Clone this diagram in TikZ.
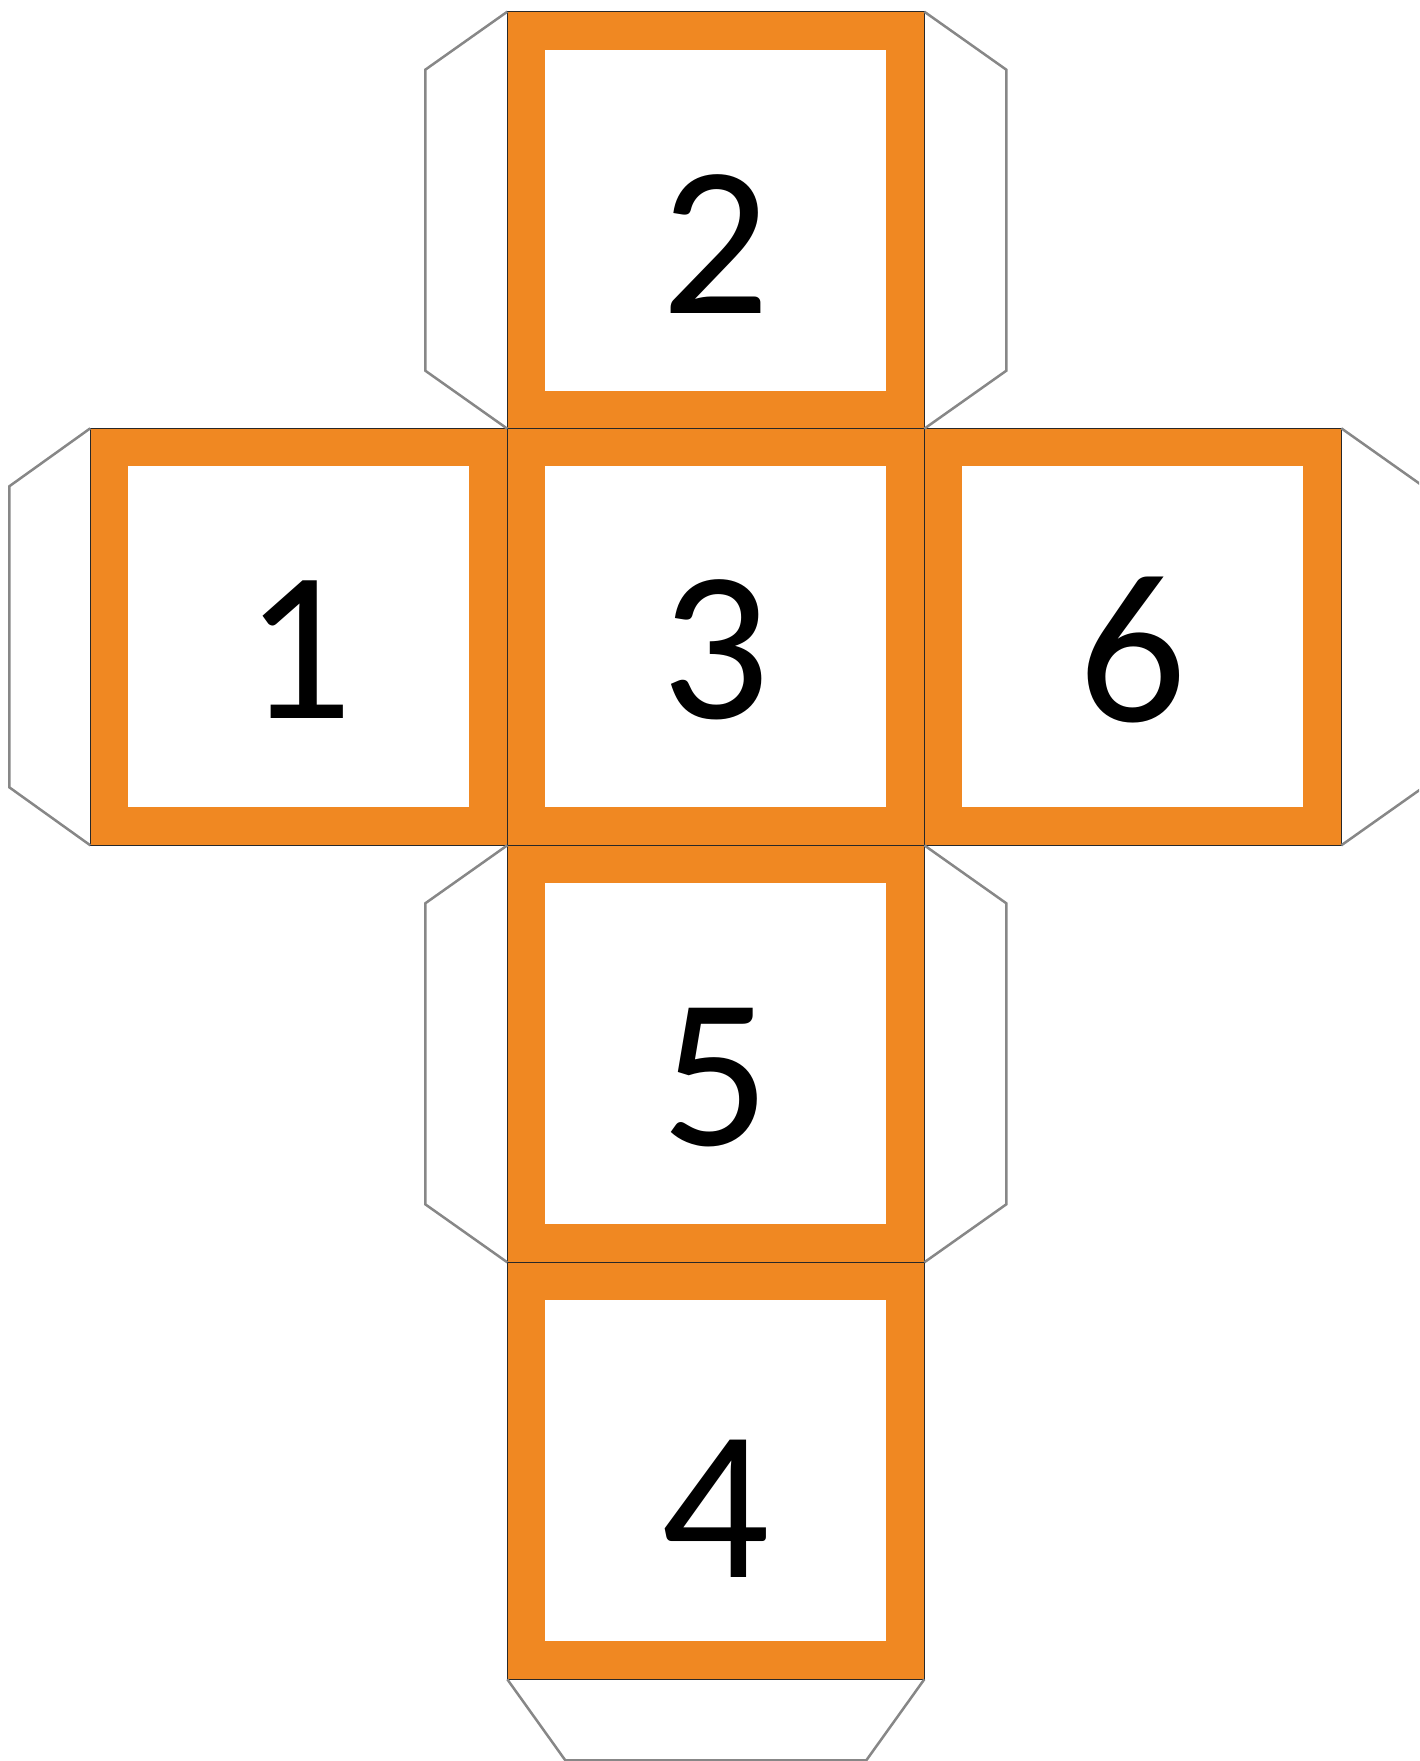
\documentclass[tikz,border=0pt]{standalone}
\usepackage{fontspec}
\setmainfont{Carlito}
\usetikzlibrary{calc}
\definecolor{dieorange}{RGB}{240,136,34}
\definecolor{edgedark}{RGB}{40,40,40}
\definecolor{flapgray}{RGB}{135,135,135}
\tikzset{
  face/.style={rectangle, minimum size=208.5pt, inner sep=0pt, outer sep=0pt,
    fill=dieorange, draw=edgedark, line width=0.75pt,
    path picture={\fill[white] ([shift={(19pt,19pt)}]path picture bounding box.south west)
      rectangle ([shift={(-19pt,-19pt)}]path picture bounding box.north east);}},
  digit/.style={inner sep=0pt, font=\fontsize{107pt}{107pt}\selectfont, text=black},
  flap/.style={draw=flapgray, line width=1.25pt, line join=miter}
}
\begin{document}
\begin{tikzpicture}[x=0.5pt,y=-0.5pt]
\useasboundingbox (0,0) rectangle (1419,1761);
\clip (0,0) rectangle (1419,1761);
% flaps
\coordinate (c2) at (715.8,220.2);
\coordinate (c1) at (298.8,636.8);
\coordinate (c3) at (715.8,636.8);
\coordinate (c6) at (1132.8,636.8);
\coordinate (c5) at (715.8,1053.8);
\coordinate (c4) at (715.8,1470.8);
\node[face] (f2) at (c2) {};
\node[face] (f1) at (c1) {};
\node[face] (f3) at (c3) {};
\node[face] (f6) at (c6) {};
\node[face] (f5) at (c5) {};
\node[face] (f4) at (c4) {};
\draw[flap] (f2.north west) -- ++(-82,58) -- ++(0,301) -- (f2.south west);
\draw[flap] (f2.north east) -- ++(82,58) -- ++(0,301) -- (f2.south east);
\draw[flap] (f1.north west) -- ++(-81,58) -- ++(0,301) -- (f1.south west);
\draw[flap] (f6.north east) -- ++(82,58) -- ++(0,301) -- (f6.south east);
\draw[flap] (f5.north west) -- ++(-82,58) -- ++(0,301) -- (f5.south west);
\draw[flap] (f5.north east) -- ++(82,58) -- ++(0,301) -- (f5.south east);
\draw[flap] (f4.south west) -- ++(58,81) -- ++(301,0) -- (f4.south east);
% digits
\node[digit] (n2) at ($(c2)+(0,24)$) {2};
\node[digit] (n1) at ($(c1)+(0,13)$) {1};
\node[digit] (n3) at ($(c3)+(0,13)$) {3};
\node[digit] (n6) at ($(c6)+(0,13)$) {6};
\node[digit] (n5) at ($(c5)+(0,24)$) {5};
\node[digit] (n4) at ($(c4)+(0,38)$) {4};
\end{tikzpicture}
\end{document}
